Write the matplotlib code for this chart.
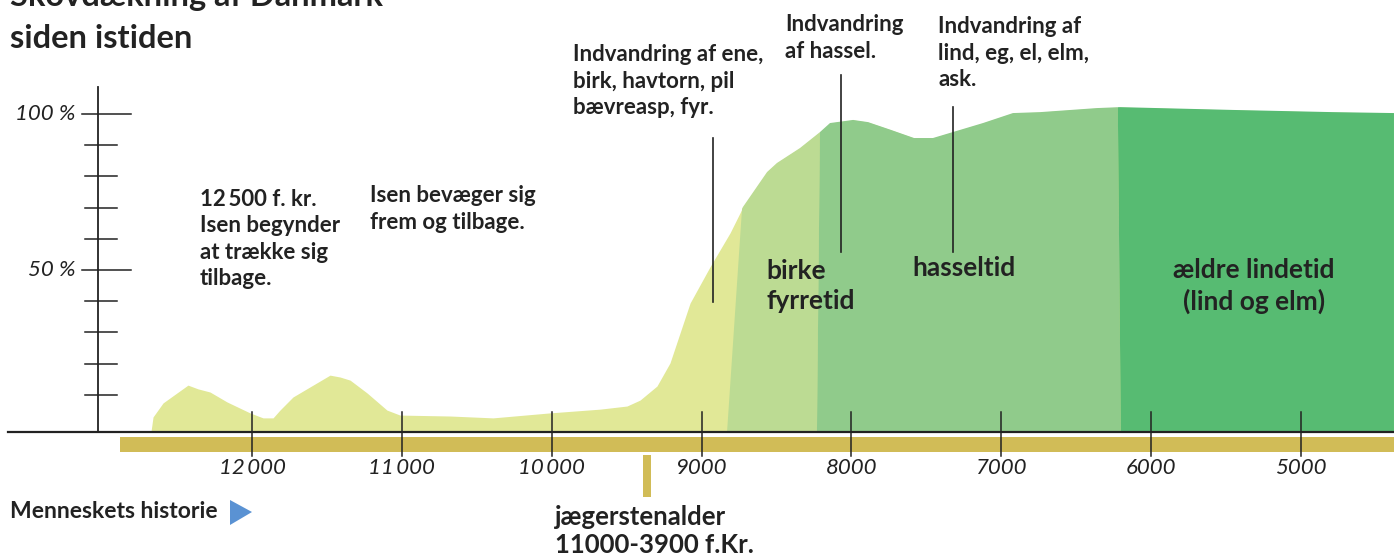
import numpy as np
import matplotlib
matplotlib.use("Agg")
import matplotlib.pyplot as plt
from matplotlib.patches import Polygon

plt.rcParams['font.family'] = ['Lato', 'DejaVu Sans']

# forest cover (% of land); years before Christ
years = [12675, 12661, 12594, 12501, 12428, 12361, 12281, 12167, 12014, 11927,
         11860, 11814, 11727, 11593, 11480, 11413, 11346, 11233, 11100, 11013,
         10679, 10392, 10012, 9678, 9498, 9411, 9298, 9211, 9144, 9077,
         8944, 8810, 8724, 8563, 8497, 8343, 8210, 8143, 7989, 7889,
         7736, 7582, 7456, 7275, 7122, 6922, 6741, 6361, 6207, 5453, 4786, 4379]
cover = [-1.9, 2.9, 7.4, 10.6, 13.1, 11.9, 10.9, 7.7, 4.2, 2.6,
         2.6, 5.1, 9.3, 13.1, 16.3, 15.7, 14.7, 10.6, 5.1, 3.5,
         3.2, 2.6, 4.2, 5.4, 6.4, 8.3, 12.8, 20.2, 29.8, 39.4,
         51.0, 61.9, 70.2, 81.4, 84.3, 89.1, 94.2, 97.1, 98.1, 97.4,
         94.9, 92.3, 92.3, 94.9, 97.1, 100.3, 100.6, 101.9, 102.2, 101.3, 100.6, 100.3]

# forest periods: start year at the ground and at the top of the curve
period_names = ["birke\nfyrretid", "hasseltid", "ældre lindetid\n(lind og elm)"]
period_start_bottom = [8830, 8230, 6202]
period_start_top = [8730, 8210, 6222]
period_colors = ["#bcdb93", "#90cb8b", "#57bb72"]

tick_years = [12000, 11000, 10000, 9000, 8000, 7000, 6000, 5000]
tick_labels = ["12\u2009000", "11\u2009000", "10\u2009000", "9000", "8000", "7000", "6000", "5000"]
pct_ticks = [10, 20, 30, 40, 50, 60, 70, 80, 90, 100]
pct_labels = {100: "100 %", 50: "50 %"}

INK = "#222222"


# pixel -> data helpers for placing the drawing's furniture
def X(px):
    return 8500 - (px - 776.5) * 6.674


def Y(py):
    return (426 - py) / 3.12


BASE = Y(432)
yrs = np.array(years)
cv = np.array(cover)


def curve_at(y):
    return np.interp(-y, -yrs, cv)


def region(sb, st, eb, et):
    inside = (yrs < st) & (yrs > et)
    pts = [(sb, BASE), (st, curve_at(st))]
    pts += list(zip(yrs[inside], cv[inside]))
    pts += [(et, curve_at(et)), (eb, BASE)]
    return pts


fig = plt.figure(figsize=(13.94, 5.56), dpi=100)
ax = fig.add_axes([0, 0, 1, 1])
ax.set_xlim(X(0), X(1394))
ax.set_ylim(Y(556), Y(0))
ax.axis("off")

# yellow tundra/park area under the whole curve
ax.fill_between(yrs, cv, BASE, color="#e1e897", lw=0)
ends_b = period_start_bottom[1:] + [years[-1]]
ends_t = period_start_top[1:] + [years[-1]]
for sb, st, eb, et, c in zip(period_start_bottom, period_start_top, ends_b, ends_t, period_colors):
    ax.add_patch(Polygon(region(sb, st, eb, et), closed=True, color=c, lw=0))

# period labels
lab_kw = dict(fontsize=19, fontweight="bold", color=INK, va="center", linespacing=1.3)
ax.text(X(766), Y(286), period_names[0], ha="left", **lab_kw)
ax.text(X(912), Y(268), period_names[1], ha="left", **lab_kw)
ax.text(X(1254), Y(286), period_names[2], ha="center", **lab_kw)

# time bar and baseline
ax.fill_between([X(120), X(1394)], Y(437), Y(452), color="#d1bc57", lw=0)
ax.plot([X(8), X(1394)], [BASE, BASE], color=INK, lw=1.6)
for ty, tl in zip(tick_years, tick_labels):
    ax.plot([ty, ty], [Y(412), Y(456)], color=INK, lw=1.1)
    ax.text(ty, Y(468), tl, fontsize=16, style="italic", color=INK,
            ha="center", va="center")

# y axis
ax.plot([X(98), X(98)], [Y(87), BASE], color=INK, lw=1.3)
for p in pct_ticks:
    if p in pct_labels:
        ax.plot([X(82), X(131)], [p, p], color=INK, lw=1.1)
        ax.text(X(75), p, pct_labels[p], fontsize=16, style="italic",
                color=INK, ha="right", va="center")
    else:
        ax.plot([X(85), X(117)], [p, p], color=INK, lw=1.1)

# title (top line cut by the frame, as in the original)
ax.text(X(10), Y(6), "Skovdækning af Danmark", fontsize=23.5, fontweight="bold",
        color=INK, ha="left", va="baseline")
ax.text(X(10), Y(48), "siden istiden", fontsize=23.5, fontweight="bold",
        color=INK, ha="left", va="baseline")

# annotations
note_kw = dict(fontsize=16, fontweight="bold", color=INK, ha="left",
               va="center", linespacing=1.32)
ax.text(X(200), Y(239), "12\u2009500 f. kr.\nIsen begynder\nat trække sig\ntilbage.", **note_kw)
ax.text(X(370), Y(209), "Isen bevæger sig\nfrem og tilbage.", **note_kw)
ax.text(X(573), Y(81), "Indvandring af ene,\nbirk, havtorn, pil\nbævreasp, fyr.", **note_kw)
ax.text(X(785), Y(38), "Indvandring\naf hassel.", **note_kw)
ax.text(X(938), Y(53), "Indvandring af\nlind, eg, el, elm,\nask.", **note_kw)
for lx, top, bot in [(713, 138, 302), (841, 75, 252), (953, 107, 252)]:
    ax.plot([X(lx), X(lx)], [Y(top), Y(bot)], color=INK, lw=1.2)

# human history
ax.text(X(10), Y(512), "Menneskets historie", fontsize=16.5, fontweight="bold",
        color=INK, ha="left", va="center")
ax.add_patch(Polygon([(X(230), Y(500)), (X(230), Y(525)), (X(252), Y(512))],
                     closed=True, color="#5a92d3", lw=0))
ax.fill_between([X(643), X(651)], Y(455), Y(497), color="#d1bc57", lw=0)
ax.text(X(555), Y(531), "jægerstenalder\n11000-3900 f.Kr.", fontsize=18.5,
        fontweight="bold", color=INK, ha="left", va="center", linespacing=1.2)

fig.savefig("out.png", dpi=100)
